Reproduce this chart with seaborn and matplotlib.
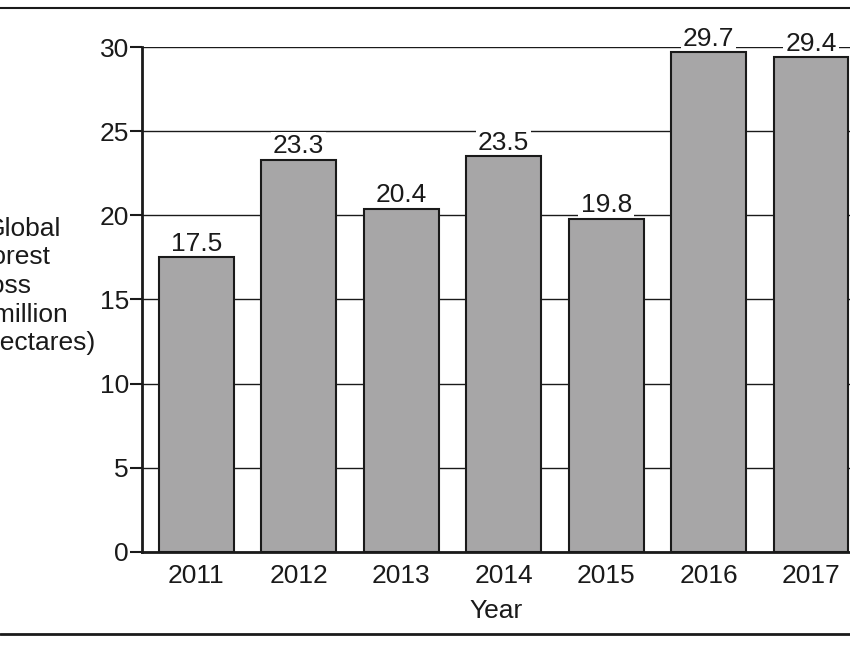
import matplotlib
matplotlib.use("Agg")
import matplotlib.pyplot as plt
import pandas as pd
import seaborn as sns
from matplotlib.lines import Line2D

years = ["2011", "2012", "2013", "2014", "2015", "2016", "2017"]
loss = [17.5, 23.3, 20.4, 23.5, 19.8, 29.7, 29.4]
y_ticks = [0, 5, 10, 15, 20, 25, 30]

df = pd.DataFrame({"Year": years, "Loss": loss})

sns.set_style("white")
plt.rcParams["font.family"] = ["Liberation Sans", "DejaVu Sans"]

fs = 19
ink = "#1a1a1a"

fig = plt.figure(figsize=(8.5, 6.5), dpi=100)
ax = fig.add_axes([0.167, 0.151, 0.833, 0.7766])

sns.barplot(data=df, x="Year", y="Loss", color="#a7a6a7", saturation=1,
            width=0.73, edgecolor=ink, linewidth=1.5, ax=ax, zorder=6)

ax.set_ylim(0, 30)
ax.set_xlim(-0.53, 6.38)
ax.set_yticks(y_ticks)
ax.yaxis.grid(True, color=ink, linewidth=1.0, zorder=0)
ax.set_axisbelow(True)
ax.tick_params(axis="y", length=9, width=1.5, color=ink, labelsize=fs, pad=0.5, left=True,
               labelcolor=ink)
ax.tick_params(axis="x", length=0, labelsize=fs, pad=9, labelcolor=ink)
for s in ["top", "right"]:
    ax.spines[s].set_visible(False)
for s in ["left", "bottom"]:
    ax.spines[s].set_color(ink)
    ax.spines[s].set_linewidth(2)
    ax.spines[s].set_zorder(7)

# value labels on a white patch so they cut through the grid lines
for i, v in enumerate(loss):
    ax.annotate(f"{v}", xy=(i, v), xytext=(0, 1), textcoords="offset points",
                ha="center", va="bottom", fontsize=fs, color=ink, zorder=5,
                annotation_clip=False,
                bbox=dict(boxstyle="square,pad=0.08", fc="white", ec="none"))

ax.set_ylabel("")
ax.set_xlabel("Year", fontsize=fs, color=ink, labelpad=8)

fig.text(-0.018, 0.56, "Global\nforest\nloss\n(million\nhectares)", ha="left", va="center",
         fontsize=fs, color=ink, linespacing=1.24)

fig.add_artist(Line2D([0, 1], [0.988, 0.988], color=ink, linewidth=1.5))
fig.add_artist(Line2D([0, 1], [0.024, 0.024], color=ink, linewidth=2))

fig.savefig("out.png", dpi=100)
